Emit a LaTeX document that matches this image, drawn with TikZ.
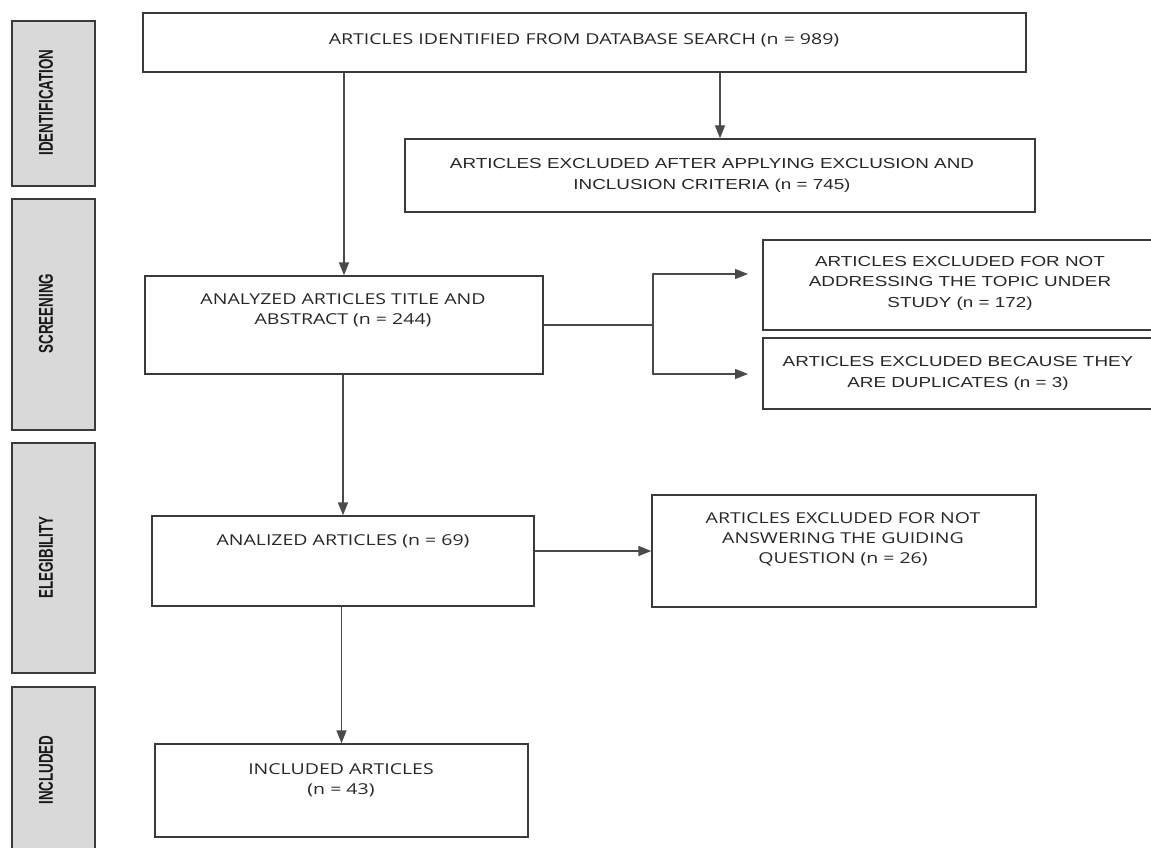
\documentclass[tikz,border=0pt]{standalone}
\usepackage{fontspec}
\setmainfont{Open Sans}
\newfontfamily\arialf{Liberation Sans}
\newfontfamily\phasef{Liberation Sans}
\usetikzlibrary{arrows.meta}
\definecolor{phasegray}{HTML}{D9D9D9}
\definecolor{edgecol}{HTML}{3A3A3A}
\definecolor{linecol}{HTML}{4A4A4A}
\definecolor{txtcol}{HTML}{262626}
\begin{document}
\begin{tikzpicture}[x=1pt,y=-1pt,
  box/.style={draw=edgecol, line width=1.4pt, rectangle, inner sep=0pt},
  phase/.style={draw=edgecol, fill=phasegray, line width=1.8pt, rectangle, inner sep=0pt},
  phasetxt/.style={font=\phasef\bfseries\fontsize{20}{22}\selectfont, text=black!90, rotate=90, inner sep=0pt},
  txt/.style={align=center, font=\fontsize{15}{20}\selectfont, text=txtcol, xscale=1.3, transform shape, inner sep=0pt},
  atxt/.style={align=center, font=\arialf\fontsize{14.5}{20.5}\selectfont, text=txtcol, xscale=1.3, transform shape, inner sep=0pt},
  conn/.style={draw=linecol, line width=1.4pt},
  arr/.style={conn, -{Triangle[length=13pt,width=10pt]}}
]
\useasboundingbox (0,0) rectangle (1151,848);
\clip (0,0) rectangle (1151,848);

% phase boxes
\node[phase, minimum width=83pt, minimum height=165pt] (p1) at (53.5,103.5) {};
\node[phase, minimum width=83pt, minimum height=231pt] (p2) at (53.5,314.5) {};
\node[phase, minimum width=83pt, minimum height=230pt] (p3) at (53.5,558) {};
\node[phase, minimum width=83pt, minimum height=166pt] (p4) at (53.5,770) {};
\node[phasetxt] (pt1) at (46,102.5) {\scalebox{0.67}[1]{IDENTIFICATION}};
\node[phasetxt] (pt2) at (46,313.5) {\scalebox{0.67}[1]{SCREENING}};
\node[phasetxt] (pt3) at (46,557.5) {\scalebox{0.67}[1]{ELEGIBILITY}};
\node[phasetxt] (pt4) at (46,770) {\scalebox{0.67}[1]{INCLUDED}};

% boxes
\node[box, minimum width=883pt, minimum height=59pt] (b1) at (584.5,42.5) {};
\node[box, minimum width=630pt, minimum height=73pt] (b2) at (720,175.5) {};
\node[box, minimum width=398pt, minimum height=98pt] (b3) at (344,325) {};
\node[box, minimum width=392pt, minimum height=90pt] (b4) at (959,285) {};
\node[box, minimum width=392pt, minimum height=71pt] (b5) at (959,373.5) {};
\node[box, minimum width=382pt, minimum height=90pt] (b6) at (343,561) {};
\node[box, minimum width=384pt, minimum height=112pt] (b7) at (844,551) {};
\node[box, minimum width=373pt, minimum height=93pt] (b8) at (341.5,790.5) {};

% texts
\node[txt] (t1) at (584,40) {ARTICLES IDENTIFIED FROM DATABASE SEARCH (n = 989)};
\node[atxt] (t2) at (712,175.5) {ARTICLES EXCLUDED AFTER APPLYING EXCLUSION AND\\INCLUSION CRITERIA (n = 745)};
\node[txt] (t3) at (343,310.5) {ANALYZED ARTICLES TITLE AND\\ABSTRACT (n = 244)};
\node[atxt] (t4) at (960,283) {ARTICLES EXCLUDED FOR NOT\\ADDRESSING THE TOPIC UNDER\\STUDY (n = 172)};
\node[atxt] (t5) at (958,373.5) {ARTICLES EXCLUDED BECAUSE THEY\\ARE DUPLICATES (n = 3)};
\node[txt] (t6) at (343,541) {ANALIZED ARTICLES (n = 69)};
\node[txt] (t7) at (843,539.5) {ARTICLES EXCLUDED FOR NOT\\ANSWERING THE GUIDING\\QUESTION (n = 26)};
\node[txt] (t8) at (341,780) {INCLUDED ARTICLES\\(n = 43)};

% connectors
\draw[arr] (b1.south -| b3.north) -- (b3.north);
\draw[arr] (b1.south -| b2.north) -- (b2.north);
\coordinate (j) at (653,325);
\coordinate (e4) at (748,274);
\coordinate (e5) at (748,374);
\draw[conn] (b3.east) -- (j);
\draw[arr] (j) |- (e4);
\draw[arr] (j) |- (e5);
\draw[arr] (b3.south -| b6.north) -- (b6.north);
\draw[arr] (b7.west -| b6.east) -- (b7.west);
\draw[arr] (b6.south -| b8.north) -- (b8.north);
\end{tikzpicture}
\end{document}
